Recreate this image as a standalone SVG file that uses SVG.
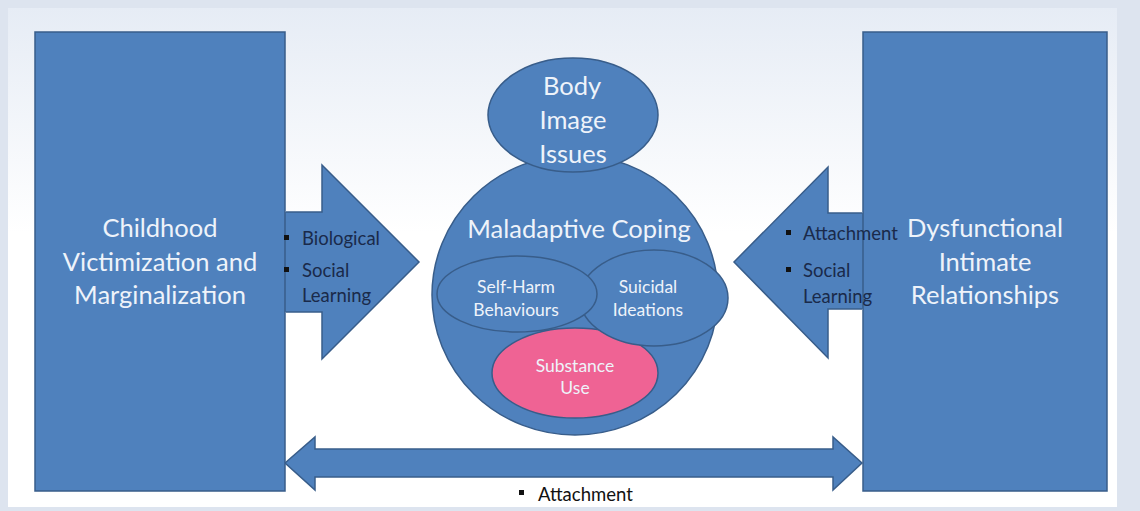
<svg xmlns="http://www.w3.org/2000/svg" width="1140" height="511" viewBox="0 0 1140 511">
<defs>
<linearGradient id="bg" x1="0" y1="0" x2="0" y2="1">
<stop offset="0" stop-color="#e6ecf5"/>
<stop offset="0.45" stop-color="#ffffff"/>
<stop offset="1" stop-color="#ffffff"/>
</linearGradient>
<style>
.shape{fill:#4f81bd;stroke:#385d8a;stroke-width:1.5}
.edge{fill:none;stroke:#385d8a;stroke-width:1.5}
.big{font-family:Lato,"Liberation Sans",sans-serif;font-size:25.5px;fill:#eef3fa;text-anchor:middle}
.mid{font-family:Lato,"Liberation Sans",sans-serif;font-size:17.5px;fill:#eef3fa;text-anchor:middle}
.bul{font-family:Lato,"Liberation Sans",sans-serif;font-size:18.5px;fill:#1a2a4a}
.blk{font-family:Lato,"Liberation Sans",sans-serif;font-size:18.5px;fill:#111}
</style>
</defs>
<rect x="0" y="0" width="1140" height="511" fill="#dde4ef"/>
<rect x="8" y="8" width="1109" height="499" fill="url(#bg)"/>

<g id="connectors">
<g id="arrow-left">
<path d="M283,212 L322,212 L322,165 L419,262 L322,359 L322,312 L283,312 Z" fill="#4f81bd"/>
<path class="edge" d="M286,212 L322,212 L322,165 L419,262 L322,359 L322,312 L286,312"/>
</g>
<g id="arrow-right">
<path d="M865,213 L828,213 L828,167 L734,262 L828,358 L828,309 L865,309 Z" fill="#4f81bd"/>
<path class="edge" d="M862,213 L828,213 L828,167 L734,262 L828,358 L828,309 L862,309"/>
</g>
<path id="arrow-both" class="shape" d="M285,463 L315,437 L315,449 L833,449 L833,437 L862,463 L833,490 L833,477 L315,477 L315,490 Z"/>
</g>

<g id="node-childhood">
<rect class="shape" x="35" y="32" width="250" height="459"/>
<text class="big" x="160" y="237">Childhood</text>
<text class="big" x="160" y="271">Victimization and</text>
<text class="big" x="160" y="304">Marginalization</text>
</g>

<g id="node-dysfunctional">
<rect class="shape" x="863" y="32" width="244" height="459"/>
<text class="big" x="985" y="237">Dysfunctional</text>
<text class="big" x="985" y="271">Intimate</text>
<text class="big" x="985" y="304">Relationships</text>
</g>

<g id="label-left">
<rect x="284" y="235" width="5" height="5" fill="#111"/>
<text class="bul" x="302" y="245">Biological</text>
<rect x="284" y="267" width="5" height="5" fill="#111"/>
<text class="bul" x="302" y="277">Social</text>
<text class="bul" x="302" y="302">Learning</text>
</g>

<g id="label-right">
<rect x="786" y="230" width="5" height="5" fill="#111"/>
<text class="bul" x="803" y="240">Attachment</text>
<rect x="786" y="267" width="5" height="5" fill="#111"/>
<text class="bul" x="803" y="277">Social</text>
<text class="bul" x="803" y="303">Learning</text>
</g>

<g id="label-bottom">
<rect x="519" y="490" width="5" height="5" fill="#111"/>
<text class="blk" x="538" y="501">Attachment</text>
</g>

<g id="node-maladaptive">
<ellipse class="shape" cx="575" cy="295" rx="143" ry="140"/>
<text class="big" x="579" y="238">Maladaptive Coping</text>
</g>

<g id="node-body-image">
<ellipse class="shape" cx="573" cy="115" rx="85" ry="57"/>
<text class="big" x="572" y="95">Body</text>
<text class="big" x="573" y="129">Image</text>
<text class="big" x="573" y="163">Issues</text>
</g>

<g id="node-substance">
<ellipse cx="575" cy="373" rx="83" ry="45" fill="#ef6394" stroke="#385d8a" stroke-width="1.5"/>
<text class="mid" x="575" y="372">Substance</text>
<text class="mid" x="575" y="394">Use</text>
</g>

<g id="node-suicidal">
<ellipse class="shape" cx="654" cy="298" rx="74" ry="48"/>
<text class="mid" x="648" y="293">Suicidal</text>
<text class="mid" x="648" y="316">Ideations</text>
</g>

<g id="node-self-harm">
<ellipse class="shape" cx="517" cy="294" rx="80" ry="38"/>
<text class="mid" x="516" y="293">Self-Harm</text>
<text class="mid" x="516" y="316">Behaviours</text>
</g>
</svg>
